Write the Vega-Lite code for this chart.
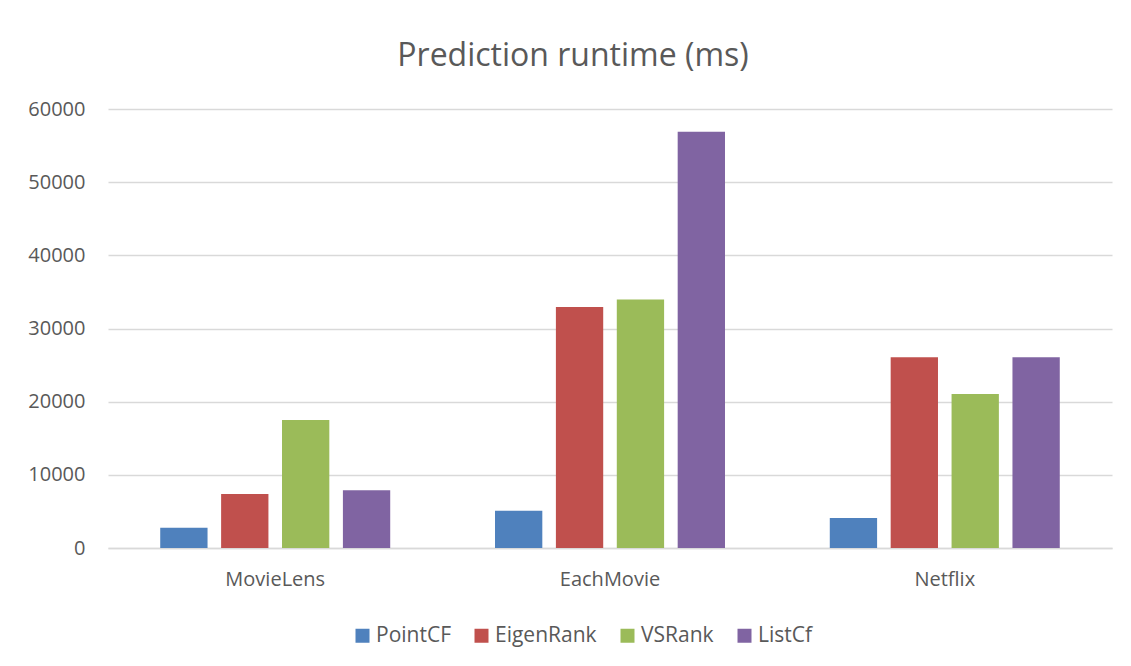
{
  "$schema": "https://vega.github.io/schema/vega-lite/v6.json",
  "autosize": {"type": "none"},
  "padding": {"left": 108, "top": 109, "right": 19, "bottom": 118},
  "width": 1004,
  "height": 439,
  "background": "white",
  "title": {
    "text": "Prediction runtime (ms)",
    "font": "Open Sans",
    "fontSize": 32,
    "fontWeight": "normal",
    "color": "#595959",
    "anchor": "middle",
    "dx": -37,
    "offset": 26
  },
  "data": {
    "values": [
      {"dataset": "MovieLens", "method": "PointCF", "runtime": 2780},
      {"dataset": "MovieLens", "method": "EigenRank", "runtime": 7390},
      {"dataset": "MovieLens", "method": "VSRank", "runtime": 17500},
      {"dataset": "MovieLens", "method": "ListCf", "runtime": 7880},
      {"dataset": "EachMovie", "method": "PointCF", "runtime": 5100},
      {"dataset": "EachMovie", "method": "EigenRank", "runtime": 32950},
      {"dataset": "EachMovie", "method": "VSRank", "runtime": 33950},
      {"dataset": "EachMovie", "method": "ListCf", "runtime": 56900},
      {"dataset": "Netflix", "method": "PointCF", "runtime": 4100},
      {"dataset": "Netflix", "method": "EigenRank", "runtime": 26080},
      {"dataset": "Netflix", "method": "VSRank", "runtime": 21060},
      {"dataset": "Netflix", "method": "ListCf", "runtime": 26080}
    ]
  },
  "mark": {"type": "bar"},
  "encoding": {
    "x": {
      "field": "dataset",
      "type": "nominal",
      "sort": ["MovieLens", "EachMovie", "Netflix"],
      "scale": {"paddingInner": 0.313, "paddingOuter": 0.156},
      "axis": {
        "title": null,
        "labelAngle": 0,
        "labelFont": "Open Sans",
        "labelFontSize": 20,
        "labelColor": "#595959",
        "labelPadding": 21,
        "ticks": false,
        "tickSize": 0,
        "domain": true,
        "domainColor": "#d9d9d9",
        "domainWidth": 1.5,
        "grid": false
      }
    },
    "xOffset": {
      "field": "method",
      "type": "nominal",
      "sort": ["PointCF", "EigenRank", "VSRank", "ListCf"],
      "scale": {"paddingInner": 0.223, "paddingOuter": 0}
    },
    "y": {
      "field": "runtime",
      "type": "quantitative",
      "scale": {"domain": [0, 60000], "nice": false},
      "axis": {
        "title": null,
        "values": [0, 10000, 20000, 30000, 40000, 50000, 60000],
        "format": "d",
        "labelFont": "Open Sans",
        "labelFontSize": 20,
        "labelColor": "#595959",
        "labelPadding": 23,
        "ticks": false,
        "tickSize": 0,
        "domain": false,
        "grid": true,
        "gridColor": "#d9d9d9",
        "gridWidth": 1.5
      }
    },
    "color": {
      "field": "method",
      "type": "nominal",
      "sort": ["PointCF", "EigenRank", "VSRank", "ListCf"],
      "scale": {
        "domain": ["PointCF", "EigenRank", "VSRank", "ListCf"],
        "range": ["#4F81BD", "#C0504D", "#9BBB59", "#8064A2"]
      },
      "legend": {
        "title": null,
        "orient": "none",
        "direction": "horizontal",
        "legendX": 244,
        "legendY": 516,
        "padding": 0,
        "symbolType": "square",
        "symbolSize": 196,
        "symbolStrokeWidth": 0,
        "labelFont": "Open Sans",
        "labelFontSize": 21,
        "labelColor": "#595959",
        "labelOffset": 3,
        "columnPadding": 20
      }
    }
  },
  "config": {
    "view": {"stroke": null}
  }
}
